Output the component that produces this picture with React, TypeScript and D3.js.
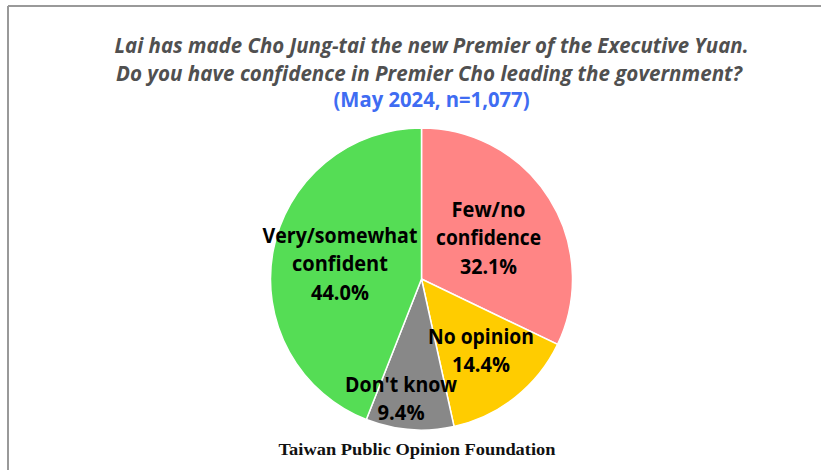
import React from "react";
import * as d3 from "d3";

const categories = ["Few/no confidence", "No opinion", "Don't know", "Very/somewhat confident"];
const values = [32.1, 14.4, 9.4, 44.0];
const labelLines = [
  ["Few/no", "confidence", "32.1%"],
  ["No opinion", "14.4%"],
  ["Don't know", "9.4%"],
  ["Very/somewhat", "confident", "44.0%"],
];
const colors = ["#FF8585", "#FFCC00", "#888888", "#55DD55"];
const titleLines = [
  "Lai has made Cho Jung-tai the new Premier of the Executive Yuan.",
  "Do you have confidence in Premier Cho leading the government?",
];
const subtitle = "(May 2024, n=1,077)";
const footer = "Taiwan Public Opinion Foundation";

const W = 821;
const H = 470;
const cx = 421.5;
const cy = 279;
const R = 151;
const labelRadius = [78, 91, 120, 83];
const labelNudge = [1, 3, -11, 0];
const labelWidths = [
  [74, 105, 57],
  [106, 58],
  [112, 47],
  [155, 96, 58],
];

export default function App() {
  const pie = d3.pie<number>().sort(null).value((d) => d);
  const arcs = pie(values);
  const arcGen = d3.arc<d3.PieArcDatum<number>>().innerRadius(0).outerRadius(R);
  const lineH = 28.5;

  return (
    <svg
      width={W}
      height={H}
      style={{ position: "absolute", left: 0, top: 0, background: "#fff" }}
    >
      <rect x={0} y={0} width={W} height={H} fill="#fff" />
      <line x1={8} y1={6} x2={W} y2={6} stroke="#999" strokeWidth={2} />
      <line x1={8} y1={6} x2={8} y2={H} stroke="#999" strokeWidth={2} />

      <text
        x={431.5}
        y={53}
        textAnchor="middle"
        fontFamily="'Open Sans', sans-serif"
        fontStyle="italic"
        fontWeight="bold"
        fontSize={22}
        fill="#505050"
        textLength={634}
        lengthAdjust="spacingAndGlyphs"
      >
        {titleLines[0]}
      </text>
      <text
        x={429}
        y={81}
        textAnchor="middle"
        fontFamily="'Open Sans', sans-serif"
        fontStyle="italic"
        fontWeight="bold"
        fontSize={22}
        fill="#505050"
        textLength={626}
        lengthAdjust="spacingAndGlyphs"
      >
        {titleLines[1]}
      </text>
      <text
        x={431.5}
        y={107}
        textAnchor="middle"
        fontFamily="'Open Sans', sans-serif"
        fontWeight="bold"
        fontSize={21}
        fill="#3F6CF2"
        textLength={196}
        lengthAdjust="spacingAndGlyphs"
      >
        {subtitle}
      </text>

      <g transform={`translate(${cx},${cy})`}>
        {arcs.map((a, i) => (
          <path
            key={categories[i]}
            d={arcGen(a) || ""}
            fill={colors[i]}
            stroke="#fff"
            strokeWidth={1.5}
          />
        ))}
        {arcs.map((a, i) => {
          const theta = (a.startAngle + a.endAngle) / 2;
          const r = labelRadius[i];
          const x = r * Math.sin(theta) + labelNudge[i];
          const y = -r * Math.cos(theta);
          const lines = labelLines[i];
          const n = lines.length;
          return (
            <g key={"l" + i}>
              {lines.map((t, j) => (
                <text
                  key={j}
                  x={x}
                  y={y + (j - (n - 1) / 2) * lineH}
                  dy="0.36em"
                  textAnchor="middle"
                  fontFamily="'Open Sans', sans-serif"
                  fontWeight="bold"
                  fontSize={21}
                  fill="#000"
                  textLength={labelWidths[i][j]}
                  lengthAdjust="spacingAndGlyphs"
                >
                  {t}
                </text>
              ))}
            </g>
          );
        })}
      </g>

      <text
        x={417}
        y={455}
        textAnchor="middle"
        fontFamily="'Liberation Serif', 'DejaVu Serif', serif"
        fontWeight="bold"
        fontSize={17}
        fill="#111"
        textLength={277}
        lengthAdjust="spacingAndGlyphs"
      >
        {footer}
      </text>
    </svg>
  );
}
